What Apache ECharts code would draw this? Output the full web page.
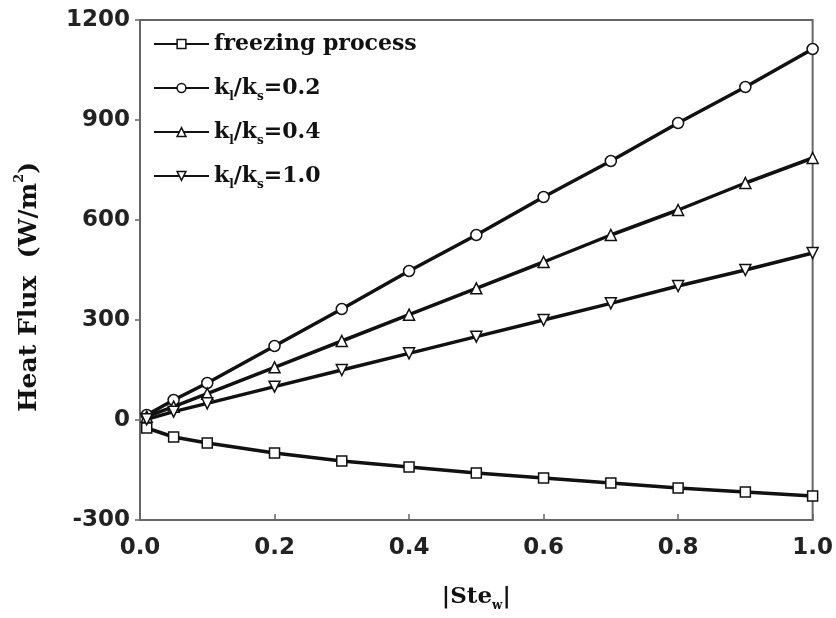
<!DOCTYPE html>
<html><head><meta charset="utf-8">
<script src="https://cdn.jsdelivr.net/npm/echarts@6/dist/echarts.min.js"></script>
<style>html,body{margin:0;padding:0;background:#fff}#c{width:836px;height:618px}</style>
</head><body><div id="c"></div>
<script>
const steW = [0.01, 0.05, 0.1, 0.2, 0.3, 0.4, 0.5, 0.6, 0.7, 0.8, 0.9, 1.0];
const freezing = [-24, -51, -69, -99, -123, -141, -159, -174, -189, -204, -216, -228];
const k02 = [15, 60, 111, 222, 333, 447, 555, 669, 777, 891, 999, 1113];
const k04 = [10, 40, 79, 158, 237, 316, 395, 474, 555, 630, 711, 786];
const k10 = [2, 25, 50, 100, 150, 200, 250, 300, 350, 402, 450, 501];
const seriesNames = ['freezing process', 'kl/ks=0.2', 'kl/ks=0.4', 'kl/ks=1.0'];
const legendLabels = ['freezing process', 'k{s|l}/k{s|s}=0.2', 'k{s|l}/k{s|s}=0.4', 'k{s|l}/k{s|s}=1.0'];
const xTicks = [0.0, 0.2, 0.4, 0.6, 0.8, 1.0];
const yTicks = [-300, 0, 300, 600, 900, 1200];
const seriesValues = [freezing, k02, k04, k10];
const symbols = ['rect', 'circle', 'triangle', 'triangle'];
const rotations = [0, 0, 0, 180];

const chart = echarts.init(document.getElementById('c'), null, {renderer: 'canvas'});
const serifFont = '"DejaVu Serif", "Liberation Serif", serif';
const sansFont = '"DejaVu Sans", "Liberation Sans", Arial, sans-serif';

const option = {
  backgroundColor: '#fff',
  animation: false,
  grid: {left: 140, right: 23, top: 20, bottom: 98, show: true, borderColor: '#666', borderWidth: 2, backgroundColor: 'transparent'},
  legend: {
    orient: 'vertical', left: 148, top: 24, itemWidth: 55, itemHeight: 11, itemGap: 14,
    data: seriesNames,
    formatter: function (name) { return legendLabels[seriesNames.indexOf(name)]; },
    textStyle: {
      fontFamily: serifFont, fontWeight: 'bold', fontSize: 22, color: '#111', lineHeight: 30,
      rich: {s: {fontFamily: serifFont, fontWeight: 'bold', fontSize: 12, color: '#111', verticalAlign: 'bottom', lineHeight: 30}}
    },
    itemStyle: {color: '#fff', borderColor: '#111', borderWidth: 1.5}
  },
  xAxis: {
    type: 'value', min: 0, max: 1, interval: 0.2,
    name: '|Ste{s|w}|', nameLocation: 'middle', nameGap: 62,
    nameTextStyle: {fontFamily: serifFont, fontWeight: 'bold', fontSize: 23, color: '#111',
      rich: {s: {fontFamily: serifFont, fontWeight: 'bold', fontSize: 12, color: '#111', verticalAlign: 'bottom', lineHeight: 30}}},
    axisLine: {show: true, onZero: false, lineStyle: {color: '#666', width: 2}},
    axisTick: {show: true, inside: true, length: 6, lineStyle: {color: '#666', width: 1.5}},
    axisLabel: {margin: 17, fontFamily: sansFont, fontWeight: 'bold', fontSize: 23, color: '#222',
      formatter: function (v) { return v.toFixed(1); }},
    splitLine: {show: false}
  },
  yAxis: {
    type: 'value', min: -300, max: 1200, interval: 300,
    name: 'Heat Flux  (W/m{t|2})', nameLocation: 'middle', nameGap: 95,
    nameTextStyle: {fontFamily: serifFont, fontWeight: 'bold', fontSize: 25, color: '#111', padding: [0, 34, 0, 0],
      rich: {t: {fontFamily: serifFont, fontWeight: 'bold', fontSize: 13, color: '#111', verticalAlign: 'top', lineHeight: 32}}},
    axisLine: {show: true, onZero: false, lineStyle: {color: '#666', width: 2}},
    axisTick: {show: true, inside: false, length: 5, lineStyle: {color: '#666', width: 1.5}},
    axisLabel: {margin: 10, fontFamily: sansFont, fontWeight: 'bold', fontSize: 23, color: '#222',
      formatter: function (v) { return String(v); }},
    splitLine: {show: false}
  },
  series: seriesNames.map(function (n, i) {
    return {
      name: n, type: 'line', data: steW.map(function (x, j) { return [x, seriesValues[i][j]]; }),
      symbol: symbols[i], symbolRotate: rotations[i], symbolSize: i === 0 ? 10 : 11, showAllSymbol: true,
      lineStyle: {color: '#111', width: 3.5},
      itemStyle: {color: '#fff', borderColor: '#111', borderWidth: 1.5},
      z: 2
    };
  })
};
chart.setOption(option);
</script></body></html>
